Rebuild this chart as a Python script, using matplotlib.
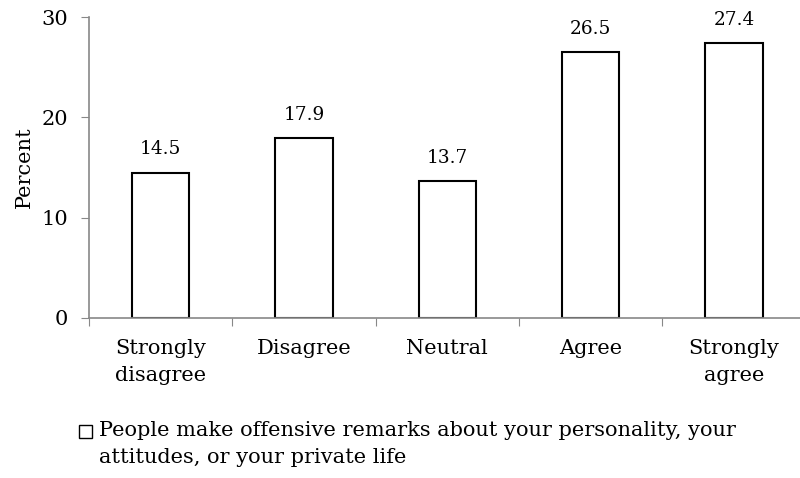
import matplotlib.pyplot as plt
from matplotlib.patches import Rectangle

categories = ["Strongly\ndisagree", "Disagree", "Neutral", "Agree", "Strongly\nagree"]
percent = [14.5, 17.9, 13.7, 26.5, 27.4]
series_label = "People make offensive remarks about your personality, your\nattitudes, or your private life"

plt.rcParams['font.family'] = ['DejaVu Serif']
plt.rcParams['font.size'] = 15

fig = plt.figure(figsize=(8, 4.78), dpi=100)
ax = fig.add_axes([0.111, 0.335, 0.889, 0.629])

x = list(range(len(categories)))
ax.bar(x, percent, width=0.4, color='white', edgecolor='black', linewidth=1.5, zorder=2)

# value labels above each bar
for xi, v in zip(x, percent):
    ax.annotate(f"{v}", (xi, v), xytext=(0, 13), textcoords='offset points',
                ha='center', va='baseline', fontsize=13.3)

ax.set_ylim(0, 30)
ax.set_yticks([0, 10, 20, 30])
ax.set_xlim(-0.5, 4.46)
# major ticks sit between categories, labels go on minor ticks
ax.set_xticks([i - 0.5 for i in x])
ax.set_xticklabels([])
ax.set_xticks(x, minor=True)
ax.set_xticklabels(categories, minor=True, linespacing=1.55)
ax.tick_params(axis='x', which='minor', length=0, pad=15)
ax.tick_params(axis='x', which='major', length=6, color='#888888')
ax.tick_params(axis='y', length=6, color='#888888', pad=9)
ax.set_ylabel("Percent", fontsize=15)
ax.yaxis.set_label_coords(-0.077, 0.5)

for side in ['top', 'right']:
    ax.spines[side].set_visible(False)
for side in ['left', 'bottom']:
    ax.spines[side].set_color('#888888')
    ax.spines[side].set_linewidth(1.2)
    ax.spines[side].set_zorder(3)

# legend: empty square plus wrapped series name
fig.patches.append(Rectangle((79 / 800, 1 - 438 / 478), 13 / 800, 13 / 478,
                             transform=fig.transFigure, facecolor='white',
                             edgecolor='black', linewidth=1))
fig.text(99 / 800, 1 - 421 / 478, series_label, ha='left', va='top',
         fontsize=15, linespacing=1.55)

fig.savefig("out.png", dpi=100)
